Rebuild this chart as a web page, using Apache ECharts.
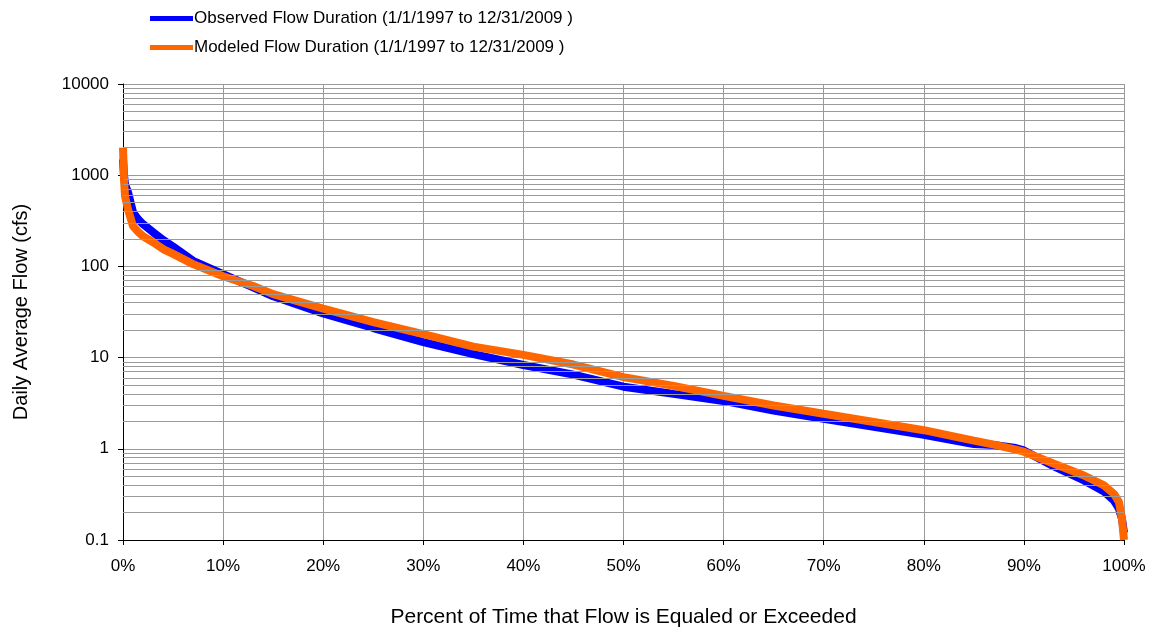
<!DOCTYPE html>
<html>
<head>
<meta charset="utf-8">
<script src="https://cdn.jsdelivr.net/npm/echarts@6/dist/echarts.min.js"></script>
<style>
html,body{margin:0;padding:0;background:#fff;}
#chart{width:1156px;height:633px;}
</style>
</head>
<body>
<div id="chart"></div>
<script>
// Percent of time flow is equaled or exceeded
const pct = [0, 0.1, 0.2, 0.5, 1, 1.5, 2, 3, 4, 5, 7, 10, 13, 15, 20, 25, 30, 35, 40, 45, 50, 55, 60, 65, 70, 75, 80, 85, 87, 89, 90, 93, 96, 98, 99, 99.5, 99.8, 100];
// Observed daily average flow (cfs)
const observed = [1500, 1000, 800, 650, 392, 330, 290, 237, 195, 165, 115, 82, 59, 47, 30.5, 21.1, 14.8, 10.9, 8.3, 6.5, 4.8, 4.0, 3.35, 2.62, 2.13, 1.74, 1.42, 1.13, 1.1, 1.03, 0.96, 0.64, 0.45, 0.34, 0.27, 0.22, 0.17, 0.12];
// Modeled daily average flow (cfs)
const modeled = [2000, 900, 590, 423, 276, 240, 214, 184, 155, 137, 106, 78, 61, 49.6, 34.5, 24.5, 18.1, 13.2, 10.7, 8.4, 6.1, 4.9, 3.8, 2.98, 2.42, 1.97, 1.6, 1.23, 1.11, 0.99, 0.93, 0.685, 0.51, 0.397, 0.32, 0.26, 0.17, 0.1];
// Axis tick labels
const xTicks = [0, 10, 20, 30, 40, 50, 60, 70, 80, 90, 100];
const yTicks = [0.1, 1, 10, 100, 1000, 10000];
const seriesNames = ['Observed Flow Duration (1/1/1997 to 12/31/2009 )', 'Modeled Flow Duration (1/1/1997 to 12/31/2009 )'];

const minorGrid = [];
yTicks.slice(0, -1).forEach(d => { for (let k = 2; k <= 9; k++) minorGrid.push({ yAxis: +(d * k).toPrecision(3) }); });

const font = 'Liberation Sans, Arial, sans-serif';
const chart = echarts.init(document.getElementById('chart'));
chart.setOption({
  animation: false,
  backgroundColor: '#fff',
  grid: { left: 123, right: 32, top: 84, bottom: 92, containLabel: false },
  legend: {
    data: seriesNames,
    orient: 'vertical',
    left: 145, top: 5,
    icon: 'rect',
    itemWidth: 43, itemHeight: 5,
    itemGap: 12,
    textStyle: { fontFamily: font, fontSize: 17, color: '#000', padding: [0, 0, 0, -4] }
  },
  xAxis: {
    type: 'value', min: 0, max: 100, interval: 10,
    name: 'Percent of Time that Flow is Equaled or Exceeded',
    nameLocation: 'middle', nameGap: 67,
    nameTextStyle: { fontFamily: font, fontSize: 21, color: '#000' },
    axisLine: { show: true, onZero: false, lineStyle: { color: '#000', width: 1 } },
    axisTick: { show: true, length: 5, lineStyle: { color: '#000' } },
    axisLabel: { fontFamily: font, fontSize: 17, color: '#000', margin: 18,
      formatter: v => xTicks.includes(v) ? v + '%' : '' },
    splitLine: { show: true, lineStyle: { color: '#9a9a9a', width: 1 } }
  },
  yAxis: {
    type: 'log', logBase: 10, min: 0.1, max: 10000,
    name: 'Daily Average Flow (cfs)',
    nameLocation: 'middle', nameGap: 92,
    nameTextStyle: { fontFamily: font, fontSize: 20, color: '#000' },
    axisLine: { show: true, lineStyle: { color: '#000', width: 1 } },
    axisTick: { show: true, length: 5, lineStyle: { color: '#000' } },
    axisLabel: { fontFamily: font, fontSize: 17, color: '#000', margin: 14,
      formatter: v => { const t = yTicks.find(y => Math.abs(y - v) / y < 1e-6); return t === undefined ? '' : String(t); } },
    splitLine: { show: true, lineStyle: { color: '#9a9a9a', width: 1 } }
  },
  series: [
    {
      name: 'minor-grid', type: 'line', data: [[50, 1]], symbol: 'none',
      lineStyle: { opacity: 0 }, silent: true, z: 1,
      markLine: { silent: true, symbol: 'none', label: { show: false }, animation: false,
        lineStyle: { color: '#9a9a9a', width: 1, type: 'solid' }, data: minorGrid }
    },
    {
      name: seriesNames[0], type: 'line', symbol: 'none', z: 3,
      color: '#0000ff',
      lineStyle: { color: '#0000ff', width: 8 },
      data: pct.map((p, i) => [p, observed[i]])
    },
    {
      name: seriesNames[1], type: 'line', symbol: 'none', z: 4,
      color: '#ff6600',
      lineStyle: { color: '#ff6600', width: 8 },
      data: pct.map((p, i) => [p, modeled[i]])
    }
  ]
});
</script>
</body>
</html>
